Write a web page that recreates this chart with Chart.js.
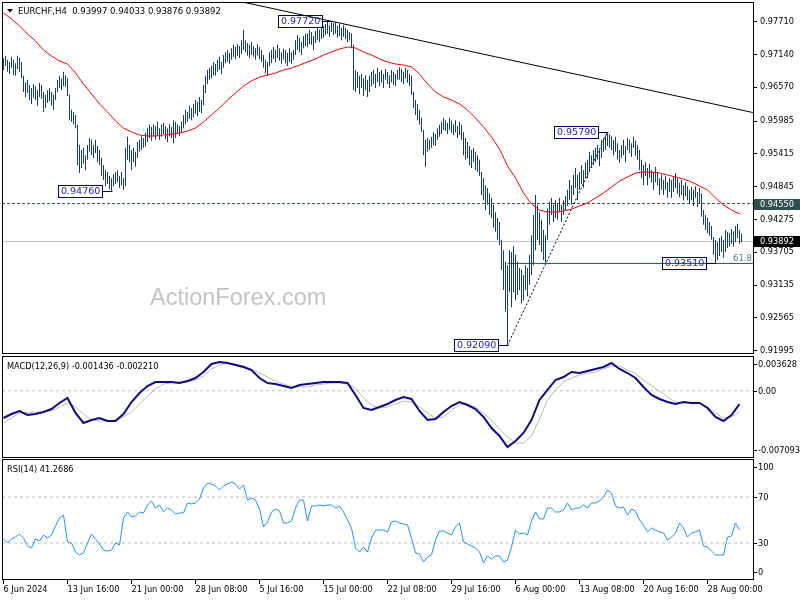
<!DOCTYPE html>
<html>
<head>
<meta charset="utf-8">
<title>EURCHF,H4</title>
<script src="https://cdn.jsdelivr.net/npm/chart.js@4.4.1/dist/chart.umd.min.js"></script>
<style>
  html, body { margin: 0; padding: 0; background: #fff; }
  #wrap { position: relative; width: 800px; height: 600px; overflow: hidden; }
  canvas { position: absolute; left: 0; }
</style>
</head>
<body>
<div id="wrap">
  <canvas id="mainChart" width="800" height="355" style="top:0px"></canvas>
  <canvas id="macdChart" width="800" height="103" style="top:355px"></canvas>
  <canvas id="rsiChart" width="800" height="142" style="top:458px"></canvas>
</div>
<script>
// ---- data ----

// H4 bars, one per 4 hours starting 6 Jun 2024 08:00
const highs = [
  0.9708,0.9712,0.9705,0.9701,0.9710,0.9705,0.9699,0.9712,0.9708,0.9701,
  0.9677,0.9666,0.9670,0.9661,0.9656,0.9663,0.9659,0.9652,0.9665,0.9661,
  0.9649,0.9644,0.9652,0.9656,0.9649,0.9644,0.9656,0.9670,0.9677,0.9673,
  0.9684,0.9678,0.9673,0.9644,0.9618,0.9614,0.9609,0.9592,0.9557,0.9548,
  0.9552,0.9539,0.9557,0.9569,0.9566,0.9557,0.9566,0.9555,0.9548,0.9534,
  0.9522,0.9513,0.9510,0.9503,0.9499,0.9506,0.9510,0.9513,0.9503,0.9510,
  0.9499,0.9552,0.9571,0.9557,0.9548,0.9552,0.9545,0.9562,0.9566,0.9572,
  0.9569,0.9578,0.9586,0.9592,0.9588,0.9593,0.9590,0.9597,0.9586,0.9592,
  0.9595,0.9590,0.9586,0.9593,0.9588,0.9600,0.9597,0.9593,0.9590,0.9597,
  0.9609,0.9618,0.9614,0.9625,0.9621,0.9628,0.9635,0.9632,0.9640,0.9635,
  0.9661,0.9677,0.9687,0.9691,0.9694,0.9701,0.9698,0.9705,0.9710,0.9701,
  0.9713,0.9718,0.9722,0.9717,0.9725,0.9731,0.9727,0.9732,0.9729,0.9739,
  0.9757,0.9739,0.9734,0.9731,0.9736,0.9729,0.9725,0.9732,0.9727,0.9722,
  0.9713,0.9705,0.9701,0.9718,0.9722,0.9727,0.9722,0.9731,0.9725,0.9718,
  0.9724,0.9722,0.9717,0.9725,0.9718,0.9722,0.9739,0.9748,0.9743,0.9736,
  0.9746,0.9750,0.9751,0.9757,0.9753,0.9746,0.9755,0.9760,0.9757,0.9762,
  0.9764,0.9767,0.9771,0.9765,0.9772,0.9769,0.9771,0.9764,0.9767,0.9760,
  0.9765,0.9760,0.9757,0.9753,0.9751,0.9731,0.9687,0.9684,0.9677,0.9680,
  0.9673,0.9678,0.9670,0.9677,0.9684,0.9687,0.9680,0.9691,0.9684,0.9687,
  0.9680,0.9689,0.9684,0.9678,0.9687,0.9684,0.9680,0.9687,0.9692,0.9689,
  0.9684,0.9691,0.9687,0.9680,0.9677,0.9649,0.9635,0.9628,0.9618,0.9604,
  0.9583,0.9566,0.9569,0.9566,0.9571,0.9579,0.9576,0.9586,0.9592,0.9597,
  0.9604,0.9600,0.9595,0.9604,0.9599,0.9593,0.9600,0.9590,0.9597,0.9592,
  0.9579,0.9569,0.9562,0.9555,0.9548,0.9552,0.9545,0.9539,0.9531,0.9510,
  0.9499,0.9487,0.9482,0.9473,0.9465,0.9453,0.9440,0.9430,0.9423,0.9392,
  0.9374,0.9354,0.9348,0.9374,0.9371,0.9381,0.9366,0.9354,0.9343,0.9340,
  0.9331,0.9348,0.9343,0.9366,0.9400,0.9435,0.9470,0.9453,0.9440,0.9427,
  0.9409,0.9400,0.9447,0.9458,0.9465,0.9453,0.9461,0.9456,0.9465,0.9453,
  0.9461,0.9468,0.9479,0.9496,0.9487,0.9505,0.9517,0.9505,0.9510,0.9522,
  0.9513,0.9527,0.9531,0.9545,0.9539,0.9548,0.9552,0.9557,0.9548,0.9566,
  0.9569,0.9574,0.9579,0.9576,0.9572,0.9566,0.9571,0.9560,0.9548,0.9557,
  0.9566,0.9555,0.9569,0.9566,0.9560,0.9571,0.9564,0.9557,0.9548,0.9531,
  0.9522,0.9527,0.9517,0.9524,0.9513,0.9510,0.9519,0.9510,0.9499,0.9505,
  0.9496,0.9503,0.9492,0.9499,0.9496,0.9501,0.9508,0.9499,0.9491,0.9496,
  0.9487,0.9492,0.9485,0.9479,0.9484,0.9479,0.9485,0.9475,0.9482,0.9473,
  0.9444,0.9435,0.9430,0.9423,0.9416,0.9397,0.9392,0.9388,0.9395,0.9399,
  0.9392,0.9409,0.9406,0.9404,0.9411,0.9407,0.9416,0.9420,0.9409,0.9403
];
const lows = [
  0.9687,0.9694,0.9684,0.9680,0.9691,0.9678,0.9677,0.9689,0.9684,0.9673,
  0.9649,0.9640,0.9647,0.9635,0.9628,0.9639,0.9635,0.9625,0.9640,0.9637,
  0.9614,0.9621,0.9630,0.9633,0.9625,0.9618,0.9635,0.9649,0.9656,0.9652,
  0.9659,0.9658,0.9642,0.9600,0.9597,0.9593,0.9586,0.9522,0.9508,0.9517,
  0.9524,0.9513,0.9531,0.9545,0.9539,0.9534,0.9543,0.9527,0.9522,0.9503,
  0.9496,0.9485,0.9489,0.9480,0.9476,0.9485,0.9489,0.9492,0.9482,0.9487,
  0.9479,0.9485,0.9531,0.9527,0.9513,0.9527,0.9519,0.9534,0.9545,0.9548,
  0.9552,0.9554,0.9562,0.9569,0.9564,0.9572,0.9566,0.9574,0.9566,0.9571,
  0.9576,0.9567,0.9562,0.9572,0.9569,0.9560,0.9569,0.9576,0.9572,0.9578,
  0.9586,0.9593,0.9597,0.9602,0.9600,0.9605,0.9611,0.9607,0.9614,0.9612,
  0.9626,0.9647,0.9663,0.9670,0.9673,0.9678,0.9677,0.9684,0.9687,0.9680,
  0.9691,0.9699,0.9701,0.9698,0.9705,0.9710,0.9706,0.9712,0.9708,0.9715,
  0.9722,0.9718,0.9712,0.9708,0.9713,0.9710,0.9705,0.9712,0.9706,0.9701,
  0.9691,0.9682,0.9677,0.9694,0.9699,0.9706,0.9701,0.9708,0.9703,0.9698,
  0.9705,0.9699,0.9694,0.9701,0.9698,0.9705,0.9713,0.9722,0.9718,0.9713,
  0.9725,0.9729,0.9727,0.9732,0.9731,0.9722,0.9734,0.9739,0.9736,0.9741,
  0.9743,0.9748,0.9750,0.9745,0.9753,0.9748,0.9750,0.9743,0.9746,0.9739,
  0.9745,0.9741,0.9736,0.9739,0.9725,0.9652,0.9649,0.9656,0.9645,0.9656,
  0.9642,0.9652,0.9640,0.9649,0.9659,0.9663,0.9656,0.9666,0.9659,0.9665,
  0.9656,0.9670,0.9663,0.9656,0.9666,0.9661,0.9659,0.9670,0.9670,0.9666,
  0.9663,0.9672,0.9665,0.9659,0.9644,0.9621,0.9609,0.9600,0.9592,0.9579,
  0.9539,0.9519,0.9545,0.9548,0.9552,0.9557,0.9555,0.9566,0.9571,0.9576,
  0.9583,0.9581,0.9576,0.9583,0.9578,0.9574,0.9579,0.9569,0.9574,0.9566,
  0.9539,0.9531,0.9534,0.9522,0.9517,0.9527,0.9513,0.9510,0.9503,0.9470,
  0.9461,0.9444,0.9453,0.9435,0.9430,0.9413,0.9406,0.9392,0.9383,0.9340,
  0.9305,0.9267,0.9209,0.9301,0.9275,0.9301,0.9287,0.9296,0.9305,0.9282,
  0.9287,0.9305,0.9294,0.9314,0.9331,0.9348,0.9374,0.9392,0.9383,0.9371,
  0.9357,0.9352,0.9392,0.9418,0.9435,0.9423,0.9430,0.9427,0.9440,0.9423,
  0.9435,0.9444,0.9451,0.9461,0.9453,0.9470,0.9482,0.9461,0.9479,0.9489,
  0.9482,0.9499,0.9499,0.9510,0.9517,0.9522,0.9527,0.9531,0.9520,0.9534,
  0.9545,0.9548,0.9555,0.9552,0.9548,0.9539,0.9545,0.9531,0.9526,0.9534,
  0.9539,0.9527,0.9548,0.9543,0.9536,0.9552,0.9538,0.9531,0.9513,0.9499,
  0.9487,0.9503,0.9487,0.9499,0.9491,0.9479,0.9492,0.9487,0.9470,0.9479,
  0.9470,0.9479,0.9465,0.9475,0.9465,0.9475,0.9482,0.9472,0.9466,0.9470,
  0.9461,0.9468,0.9461,0.9454,0.9461,0.9451,0.9465,0.9449,0.9456,0.9432,
  0.9418,0.9409,0.9404,0.9399,0.9392,0.9366,0.9351,0.9357,0.9364,0.9371,
  0.9361,0.9371,0.9378,0.9381,0.9385,0.9380,0.9388,0.9395,0.9385,0.9388
];

// red moving average, one value every 4 bars
const MA_STEP = 4;
const maValues = [
  0.97862,0.97758,0.97636,0.97497,0.97375,0.97219,0.97115,0.97028,0.96976,0.96819,
  0.96628,0.96454,0.96281,0.96142,0.95985,0.95863,0.95794,0.95742,0.95724,0.95724,
  0.95742,0.95759,0.95776,0.95811,0.95863,0.95968,0.96089,0.96211,0.96350,0.96472,
  0.96593,0.96681,0.96750,0.96784,0.96819,0.96871,0.96906,0.96958,0.97010,0.97063,
  0.97132,0.97184,0.97236,0.97271,0.97254,0.97184,0.97132,0.97063,0.97010,0.96976,
  0.96958,0.96924,0.96802,0.96628,0.96489,0.96402,0.96350,0.96281,0.96176,0.96037,
  0.95881,0.95707,0.95498,0.95203,0.94995,0.94734,0.94543,0.94438,0.94404,0.94404,
  0.94421,0.94456,0.94508,0.94560,0.94647,0.94734,0.94838,0.94942,0.95012,0.95081,
  0.95098,0.95098,0.95081,0.95046,0.95012,0.94977,0.94925,0.94856,0.94786,0.94647,
  0.94526,0.94438,0.94369
];

// MACD(12,26,9): main line and signal, one value every 4 bars
const MACD_STEP = 4;
const macdMain = [
  -0.002916,-0.002487,-0.002166,-0.002594,-0.002487,-0.002273,-0.001951,-0.001308,-0.000772,-0.002380,
  -0.003452,-0.003131,-0.002916,-0.003238,-0.003238,-0.002487,-0.001201,-0.000236,0.000515,0.000943,
  0.000943,0.000943,0.000836,0.001051,0.001372,0.002016,0.002873,0.003088,0.002980,0.002766,
  0.002552,0.002230,0.001372,0.000836,0.000729,0.000515,0.000300,0.000622,0.000729,0.000836,
  0.000943,0.000943,0.000943,0.000836,-0.000450,-0.001844,-0.002058,-0.001737,-0.001415,-0.000986,
  -0.000665,-0.000879,-0.002166,-0.003131,-0.003023,-0.002273,-0.001630,-0.001201,-0.001522,-0.001951,
  -0.002809,-0.003988,-0.004846,-0.006025,-0.005382,-0.004524,-0.003131,-0.000986,0.000086,0.001158,
  0.001479,0.002016,0.001908,0.002123,0.002337,0.002552,0.002980,0.002337,0.001908,0.001372,
  0.000407,-0.000450,-0.000879,-0.001201,-0.001415,-0.001201,-0.001308,-0.001308,-0.001844,-0.002809,
  -0.003238,-0.002594,-0.001436
];
const macdSignal = [
  -0.003452,-0.002916,-0.002380,-0.002380,-0.002273,-0.002273,-0.002166,-0.001737,-0.001308,-0.001737,
  -0.002487,-0.003131,-0.003238,-0.003238,-0.003131,-0.002809,-0.002273,-0.001415,-0.000557,0.000193,
  0.000729,0.000836,0.000943,0.000943,0.001158,0.001587,0.002337,0.002766,0.002980,0.002873,
  0.002659,0.002337,0.001908,0.001479,0.001051,0.000729,0.000407,0.000407,0.000407,0.000622,
  0.000729,0.000836,0.000836,0.000729,0.000300,-0.000772,-0.001522,-0.001844,-0.001737,-0.001415,
  -0.001094,-0.001201,-0.001737,-0.002380,-0.002916,-0.002809,-0.002058,-0.001522,-0.001415,-0.001737,
  -0.002380,-0.003131,-0.004095,-0.004953,-0.005596,-0.005596,-0.004846,-0.003023,-0.000986,0.000086,
  0.000943,0.001372,0.001694,0.001908,0.002016,0.002337,0.002659,0.002659,0.002230,0.001801,
  0.001158,0.000515,-0.000021,-0.000665,-0.001201,-0.001308,-0.001308,-0.001308,-0.001737,-0.002380,
  -0.002916,-0.002809,-0.002210
];

// RSI(14), one value every 2 bars
const RSI_STEP = 2;
const rsiValues = [
  33.5,30.0,33.5,35.2,37.8,34.3,27.4,25.7,33.5,31.7,
  37.0,34.3,37.0,44.8,51.7,54.3,30.9,30.0,22.2,19.6,
  21.3,30.0,37.8,33.5,29.1,23.9,23.0,23.9,30.0,28.3,
  51.7,57.0,52.6,53.5,57.0,56.1,63.0,66.5,60.4,63.0,
  57.0,60.4,58.7,55.2,56.1,56.1,64.8,63.9,64.8,68.3,
  77.8,82.2,81.3,79.6,76.1,79.6,81.3,83.0,81.3,77.0,
  80.4,67.4,69.1,67.4,59.6,43.9,48.3,57.0,59.6,57.8,
  47.4,47.4,49.1,60.4,67.4,67.4,49.1,62.2,62.2,63.0,
  62.2,63.0,63.0,60.4,62.2,57.0,50.0,43.0,25.7,22.2,
  26.5,22.2,34.3,41.3,41.3,41.3,39.6,48.3,49.1,47.4,
  46.5,45.7,34.3,21.3,20.4,13.5,17.8,19.6,32.6,40.4,
  40.4,38.7,37.0,43.9,47.4,30.9,29.1,27.4,25.7,22.2,
  12.6,18.7,16.1,18.7,18.7,13.5,15.2,26.5,41.3,37.8,
  38.7,37.0,49.1,57.0,50.9,50.9,60.4,60.4,57.0,57.0,
  58.7,64.8,58.7,60.4,60.4,63.0,60.4,64.8,64.8,66.5,
  70.0,76.1,73.5,62.2,60.4,61.3,54.3,59.6,57.8,50.0,
  45.7,39.6,43.0,41.3,39.6,38.7,32.6,35.2,38.7,47.4,
  43.0,35.2,38.7,39.6,41.3,27.4,26.5,23.0,19.6,19.6,
  19.6,35.2,36.1,47.4,41.3
];

// axis labels
const DATE_STEP = 32;
const dateLabels = ['6 Jun 2024', '13 Jun 16:00', '21 Jun 00:00', '28 Jun 08:00', '5 Jul 16:00',
  '15 Jul 00:00', '22 Jul 08:00', '29 Jul 16:00', '6 Aug 00:00', '13 Aug 08:00', '20 Aug 16:00', '28 Aug 00:00'];
const priceTicks = [0.97710, 0.97140, 0.96570, 0.95985, 0.95415, 0.94845, 0.94275, 0.93705, 0.93135, 0.92565, 0.91995];
const macdTickLabels = [['0.003628', 0.003628, 7], ['0.00', 0, 0], ['-0.007093', -0.007093, -7]];
const rsiTickLabels = [['100', 100, 4.5], ['70', 70, 0], ['30', 30, 0], ['0', 0, -5.5]];

// drawn objects on the price chart
const trendLine = [[100, 0.9820], [375, 0.9613]];
const fibLine = [[252, 0.9209], [302, 0.9579]];
const fibLevel = { from: 252, price: 0.9351, text: '61.8' };
const levelDashed = 0.9455;
const lastPrice = 0.93892;
const priceTags = [
  { text: '0.97720', bar: 164, price: 0.9772 },
  { text: '0.94760', bar: 54, price: 0.9476 },
  { text: '0.92090', bar: 252, price: 0.9209 },
  { text: '0.95790', bar: 302, price: 0.9579 },
  { text: '0.93510', bar: 356, price: 0.9351 }
];
const header = 'EURCHF,H4  0.93997 0.94033 0.93876 0.93892';
const macdTitle = 'MACD(12,26,9) -0.001436 -0.002210';
const rsiTitle = 'RSI(14) 41.2686';

// ---- layout ----
const X_MIN = -0.75, X_MAX = 375.25;
const PRICE_MIN = 0.91936, PRICE_MAX = 0.98053;
const MACD_MIN = -0.007205, MACD_MAX = 0.003731;
const RSI_MIN = -2.17, RSI_MAX = 103.04;
const AXIS_W = 46;
const FONT = 'DejaVu Sans';

Chart.defaults.font.family = FONT;
Chart.defaults.font.size = 8.2;
Chart.defaults.color = '#000';

function pts(values, step) {
  return values.map((v, k) => ({ x: k * step, y: v }));
}
function seg(a, b) {
  return [{ x: a[0], y: a[1] }, { x: b[0], y: b[1] }];
}
function lineSet(data, color, width, dash) {
  return {
    type: 'line', data: data, borderColor: color, borderWidth: width,
    borderDash: dash || [], pointRadius: 0, fill: false, tension: 0
  };
}
function baseOptions(padding) {
  return {
    responsive: false,
    animation: false,
    events: [],
    devicePixelRatio: 1,
    layout: { padding: padding },
    plugins: { legend: { display: false }, tooltip: { enabled: false } }
  };
}
function hiddenY(min, max) {
  return {
    position: 'right', min: min, max: max,
    ticks: { display: false }, grid: { display: false }, border: { display: false },
    afterFit: s => { s.width = AXIS_W; s.paddingTop = 0; s.paddingBottom = 0; }
  };
}
function drawFrame(chart) {
  const { ctx, chartArea: a } = chart;
  ctx.save();
  ctx.strokeStyle = '#000';
  ctx.lineWidth = 1;
  ctx.strokeRect(a.left + 0.5, a.top + 0.5, a.right - a.left - 1, a.bottom - a.top - 1);
  ctx.restore();
}
function drawTitle(chart, text) {
  const { ctx, chartArea: a } = chart;
  ctx.save();
  ctx.font = '8.2px "' + FONT + '"';
  ctx.fillStyle = '#000';
  ctx.textBaseline = 'alphabetic';
  ctx.fillText(text, a.left + 5, a.top + 13);
  ctx.restore();
}
function drawSideLabels(chart, items) {
  const { ctx, chartArea: a, scales } = chart;
  ctx.save();
  ctx.font = '8.2px "' + FONT + '"';
  ctx.fillStyle = '#000';
  ctx.strokeStyle = '#000';
  ctx.textBaseline = 'middle';
  items.forEach(([text, value, shift]) => {
    const y = Math.round(scales.y.getPixelForValue(value) + shift) + 0.5;
    ctx.beginPath();
    ctx.moveTo(a.right, y);
    ctx.lineTo(a.right + 3, y);
    ctx.stroke();
    ctx.fillText(text, a.right + 4, y);
  });
  ctx.restore();
}

// ---- main price chart ----
const mainDecor = {
  id: 'mainDecor',
  beforeDatasetsDraw(chart) {
    const { ctx } = chart;
    ctx.save();
    ctx.font = '23.5px "Liberation Sans"';
    ctx.fillStyle = '#c4c4c4';
    ctx.fillText('ActionForex.com', 150, 305);
    ctx.restore();
  },
  afterDatasetsDraw(chart) {
    const { ctx, chartArea: a, scales } = chart;
    const xs = scales.x, ys = scales.y;
    drawFrame(chart);

    // tags on the swing highs and lows
    ctx.save();
    ctx.font = '9.5px "' + FONT + '"';
    ctx.lineWidth = 1;
    priceTags.forEach(tag => {
      const x = Math.round(xs.getPixelForValue(tag.bar));
      const y = Math.round(ys.getPixelForValue(tag.price)) + 0.5;
      const w = Math.ceil(ctx.measureText(tag.text).width) + 4;
      const right = x - 10 + 0.5;
      ctx.strokeStyle = '#00007f';
      ctx.beginPath();
      ctx.moveTo(right, y);
      ctx.lineTo(x + 0.5, y);
      ctx.stroke();
      ctx.strokeRect(right - w, y - 6, w, 12);
      ctx.fillStyle = '#2222c4';
      ctx.textBaseline = 'middle';
      ctx.fillText(tag.text, right - w + 2.5, y + 0.5);
    });

    // 61.8 caption
    ctx.font = '8.5px "' + FONT + '"';
    ctx.fillStyle = '#58788a';
    ctx.textAlign = 'right';
    ctx.textBaseline = 'alphabetic';
    ctx.fillText(fibLevel.text, a.right - 2, Math.round(ys.getPixelForValue(fibLevel.price)) - 2);

    // boxes on the price axis
    ctx.textAlign = 'left';
    ctx.textBaseline = 'middle';
    ctx.font = '8.2px "' + FONT + '"';
    [[levelDashed, '#2f4f4f'], [lastPrice, '#000']].forEach(([p, bg]) => {
      const y = Math.round(ys.getPixelForValue(p));
      ctx.fillStyle = bg;
      ctx.fillRect(a.right, y - 5, 46, 11);
      ctx.fillStyle = '#fff';
      ctx.fillText(p.toFixed(5), a.right + 6, y + 0.5);
    });

    // header
    ctx.fillStyle = '#000';
    ctx.beginPath();
    ctx.moveTo(7, 9);
    ctx.lineTo(13, 9);
    ctx.lineTo(10, 12.5);
    ctx.closePath();
    ctx.fill();
    ctx.font = '8.5px "' + FONT + '"';
    ctx.textBaseline = 'alphabetic';
    ctx.fillText(header, 18, 14);
    ctx.restore();
  }
};

new Chart(document.getElementById('mainChart'), {
  type: 'bar',
  data: {
    datasets: [
      lineSet(pts(maValues, MA_STEP), '#ff0000', 1),
      {
        type: 'bar',
        data: highs.map((h, i) => ({ x: i, y: [lows[i], h] })),
        backgroundColor: '#17405f',
        borderWidth: 0,
        barThickness: 1,
        inflateAmount: 0,
        grouped: false
      },
      lineSet(seg(trendLine[0], trendLine[1]), '#000', 1),
      lineSet(seg(fibLine[0], fibLine[1]), '#000', 1, [2, 2]),
      lineSet(seg([fibLevel.from, fibLevel.price], [X_MAX, fibLevel.price]), '#2f4f4f', 1),
      lineSet(seg([X_MIN, levelDashed], [X_MAX, levelDashed]), '#2f4f4f', 1, [3, 2]),
      lineSet(seg([X_MIN, lastPrice], [X_MAX, lastPrice]), '#c0c0c0', 1)
    ]
  },
  options: Object.assign(baseOptions({ left: 2, top: 2, bottom: 1, right: 0 }), {
    scales: {
      x: { type: 'linear', display: false, min: X_MIN, max: X_MAX, offset: false },
      y: {
        position: 'right', min: PRICE_MIN, max: PRICE_MAX,
        afterBuildTicks: s => { s.ticks = priceTicks.map(v => ({ value: v })); },
        afterFit: s => { s.width = AXIS_W; s.paddingTop = 0; s.paddingBottom = 0; },
        ticks: { callback: v => v.toFixed(5), padding: 3, autoSkip: false, color: '#000' },
        grid: { drawOnChartArea: false, tickLength: 3, color: '#000' },
        border: { display: false }
      }
    }
  }),
  plugins: [mainDecor]
});

// ---- MACD panel ----
new Chart(document.getElementById('macdChart'), {
  type: 'line',
  data: {
    datasets: [
      lineSet(pts(macdMain, MACD_STEP), '#0c0c8a', 2),
      lineSet(pts(macdSignal, MACD_STEP), '#b8b8b8', 1),
      lineSet(seg([X_MIN, 0], [X_MAX, 0]), '#c0c0c0', 1, [3, 3])
    ]
  },
  options: Object.assign(baseOptions({ left: 2, top: 1, bottom: 0, right: 0 }), {
    scales: {
      x: { type: 'linear', display: false, min: X_MIN, max: X_MAX, offset: false },
      y: hiddenY(MACD_MIN, MACD_MAX)
    }
  }),
  plugins: [{
    id: 'macdDecor',
    afterDatasetsDraw(chart) {
      drawFrame(chart);
      drawTitle(chart, macdTitle);
      drawSideLabels(chart, macdTickLabels);
    }
  }]
});

// ---- RSI panel with the time axis ----
new Chart(document.getElementById('rsiChart'), {
  type: 'line',
  data: {
    datasets: [
      lineSet(pts(rsiValues, RSI_STEP), '#1e90ff', 1),
      lineSet(seg([X_MIN, 70], [X_MAX, 70]), '#c0c0c0', 1, [3, 3]),
      lineSet(seg([X_MIN, 30], [X_MAX, 30]), '#c0c0c0', 1, [3, 3])
    ]
  },
  options: Object.assign(baseOptions({ left: 2, top: 1, bottom: 0, right: 0 }), {
    scales: {
      x: {
        type: 'linear', min: X_MIN, max: X_MAX, offset: false,
        afterBuildTicks: s => { s.ticks = dateLabels.map((d, k) => ({ value: k * DATE_STEP })); },
        afterFit: s => { s.height = 20; s.paddingLeft = 0; s.paddingRight = 0; },
        ticks: {
          callback: v => dateLabels[Math.round(v / DATE_STEP)],
          align: 'start', maxRotation: 0, autoSkip: false, padding: 1, color: '#000'
        },
        grid: { drawOnChartArea: false, tickLength: 4, color: '#000' },
        border: { display: false }
      },
      y: hiddenY(RSI_MIN, RSI_MAX)
    }
  }),
  plugins: [{
    id: 'rsiDecor',
    afterDatasetsDraw(chart) {
      drawFrame(chart);
      drawTitle(chart, rsiTitle);
      drawSideLabels(chart, rsiTickLabels);
    }
  }]
});
</script>
</body>
</html>
